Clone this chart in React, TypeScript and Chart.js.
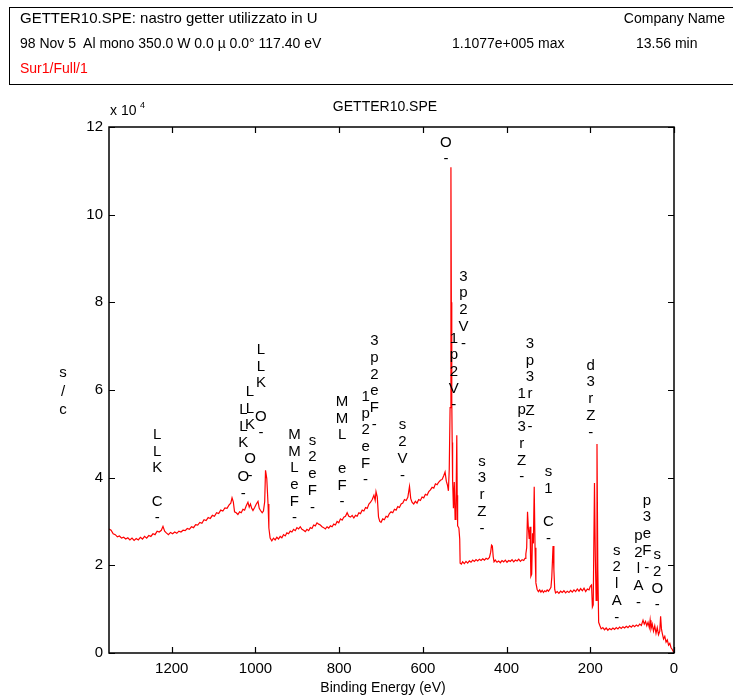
import React, { useEffect, useRef } from "react";
import { Chart, registerables } from "chart.js";

Chart.register(...registerables);

// Binding energy (eV) of each spectrum point
const bindingEnergy = [
  1350, 1345, 1340, 1335, 1330, 1325, 1320, 1315, 1310, 1305, 1300, 1295, 1290, 1285, 1280, 1275, 1270, 1265, 1260, 1255,
  1250, 1245, 1240, 1235, 1230, 1225, 1221, 1217, 1213, 1208, 1203, 1198, 1193, 1188, 1183, 1178, 1173, 1168, 1163, 1158,
  1153, 1148, 1143, 1138, 1133, 1128, 1123, 1118, 1113, 1108, 1103, 1098, 1093, 1088, 1083, 1078, 1073, 1068, 1063, 1059,
  1056, 1053, 1050, 1046, 1042, 1038, 1034, 1030, 1026, 1022, 1018, 1015, 1012, 1009, 1006, 1002, 998, 994, 991, 988,
  984, 981, 978, 976, 973, 970, 968, 965, 961, 957, 953, 949, 945, 941, 937, 933, 929, 925, 921, 917,
  913, 909, 905, 901, 897, 893, 889, 885, 881, 877, 873, 869, 865, 861, 857, 853, 849, 845, 841, 837,
  833, 829, 825, 821, 817, 813, 809, 805, 801, 797, 793, 789, 785, 781, 777, 773, 769, 765, 761, 757,
  753, 749, 745, 741, 737, 733, 729, 725, 721, 717, 714, 712, 709, 706, 703, 700, 696, 692, 688, 684,
  680, 676, 672, 668, 664, 660, 656, 652, 648, 644, 640, 636, 632, 629, 626, 622, 618, 614, 610, 606,
  602, 598, 594, 590, 586, 582, 578, 574, 570, 566, 562, 558, 554, 550, 547, 544, 541, 539, 537, 535,
  533, 532, 531, 530, 529, 527, 525, 523, 521, 519, 518, 517, 514, 512, 511, 508, 505, 501, 497, 493,
  489, 485, 481, 477, 473, 469, 465, 461, 457, 453, 449, 445, 441, 438, 436, 434, 432, 430, 427, 423,
  419, 415, 411, 407, 403, 399, 395, 391, 387, 383, 379, 375, 371, 367, 363, 359, 356, 354, 352, 350,
  348, 346, 344, 342, 340, 338, 336, 334, 332, 330, 327, 324, 321, 318, 315, 312, 309, 306, 303, 300,
  297, 294, 292, 289, 287, 285, 283, 279, 275, 271, 267, 263, 259, 255, 251, 247, 243, 239, 235, 231,
  227, 223, 219, 215, 211, 207, 203, 200, 197, 195, 193, 190, 188, 186, 184, 182, 180, 177, 174, 170,
  166, 162, 158, 154, 150, 146, 142, 138, 134, 130, 126, 122, 118, 114, 110, 106, 102, 98, 94, 90,
  86, 82, 78, 74, 71, 68, 65, 62, 59, 57, 55, 52, 49, 46, 43, 40, 37, 34, 32, 30,
  28, 25, 22, 19, 16, 13, 10, 7, 4, 2, 0,
];

// Count rate, in units of 10^4 counts/s
const countRate = [
  2.83, 2.80, 2.72, 2.70, 2.65, 2.67, 2.62, 2.64, 2.60, 2.63, 2.58, 2.62, 2.57, 2.61, 2.58, 2.64, 2.60, 2.66, 2.62, 2.68,
  2.66, 2.72, 2.70, 2.78, 2.76, 2.80, 2.89, 2.78, 2.74, 2.70, 2.75, 2.72, 2.76, 2.73, 2.78, 2.76, 2.80, 2.79, 2.84, 2.82,
  2.88, 2.86, 2.93, 2.92, 2.98, 2.96, 3.04, 3.02, 3.09, 3.07, 3.14, 3.12, 3.20, 3.18, 3.26, 3.24, 3.31, 3.30, 3.38, 3.42,
  3.54, 3.45, 3.22, 3.20, 3.16, 3.22, 3.20, 3.28, 3.26, 3.36, 3.44, 3.33, 3.40, 3.30, 3.25, 3.32, 3.40, 3.46, 3.30, 3.25,
  3.20, 3.24, 3.45, 4.17, 3.98, 3.40, 2.85, 2.62, 2.56, 2.62, 2.58, 2.64, 2.60, 2.66, 2.63, 2.70, 2.67, 2.74, 2.72, 2.78,
  2.76, 2.82, 2.79, 2.86, 2.83, 2.88, 2.82, 2.80, 2.77, 2.82, 2.79, 2.86, 2.84, 2.92, 2.90, 2.97, 2.94, 2.92, 2.88, 2.86,
  2.83, 2.88, 2.85, 2.90, 2.88, 2.94, 2.92, 3.00, 2.97, 3.06, 3.03, 3.10, 3.12, 3.20, 3.12, 3.10, 3.14, 3.08, 3.14, 3.12,
  3.20, 3.18, 3.26, 3.24, 3.32, 3.30, 3.40, 3.44, 3.50, 3.60, 3.48, 3.68, 3.56, 3.10, 3.00, 2.98, 3.06, 3.04, 3.12, 3.10,
  3.18, 3.22, 3.20, 3.28, 3.26, 3.34, 3.32, 3.40, 3.42, 3.50, 3.48, 3.55, 3.80, 3.52, 3.44, 3.40, 3.46, 3.42, 3.50, 3.48,
  3.56, 3.54, 3.62, 3.60, 3.68, 3.72, 3.78, 3.76, 3.86, 3.84, 3.90, 3.94, 3.96, 4.05, 4.13, 3.92, 3.82, 3.70, 4.20, 5.60,
  11.08, 8.00, 5.80, 4.80, 3.95, 3.30, 3.90, 3.05, 3.20, 4.97, 3.60, 2.90, 2.85, 2.60, 2.05, 2.03, 2.08, 2.04, 2.09, 2.05,
  2.10, 2.07, 2.12, 2.09, 2.13, 2.10, 2.14, 2.11, 2.15, 2.12, 2.16, 2.14, 2.18, 2.30, 2.46, 2.44, 2.20, 2.08, 2.12, 2.07,
  2.10, 2.06, 2.11, 2.08, 2.12, 2.07, 2.11, 2.09, 2.13, 2.08, 2.12, 2.10, 2.14, 2.09, 2.13, 2.11, 2.16, 2.26, 2.40, 3.22,
  2.85, 2.60, 2.88, 1.75, 1.80, 2.73, 2.50, 3.79, 2.40, 1.60, 1.45, 1.40, 1.44, 1.39, 1.43, 1.38, 1.42, 1.40, 1.44, 1.41,
  1.45, 1.50, 1.73, 2.44, 1.90, 1.45, 1.37, 1.40, 1.36, 1.41, 1.38, 1.42, 1.37, 1.41, 1.38, 1.43, 1.39, 1.44, 1.40, 1.46,
  1.41, 1.47, 1.42, 1.48, 1.40, 1.46, 1.44, 1.52, 1.55, 1.05, 1.10, 3.88, 2.20, 1.20, 4.77, 1.90, 0.70, 0.62, 0.55, 0.58,
  0.53, 0.57, 0.52, 0.56, 0.53, 0.57, 0.54, 0.58, 0.55, 0.59, 0.56, 0.60, 0.57, 0.61, 0.58, 0.62, 0.59, 0.63, 0.60, 0.64,
  0.61, 0.66, 0.63, 0.75, 0.66, 0.72, 0.62, 0.70, 0.58, 0.75, 0.55, 0.66, 0.50, 0.62, 0.45, 0.58, 0.42, 0.50, 0.84, 0.55,
  0.45, 0.32, 0.38, 0.25, 0.30, 0.18, 0.22, 0.12, 0.08, 0.04, 0.00,
];

const xTickValues = [0, 200, 400, 600, 800, 1000, 1200];
const yTickValues = [0, 2, 4, 6, 8, 10, 12];

// Peak annotations: stacked characters (top to bottom), energy and level of the "-" marker
const peakLabelText = [
  "LLK C-", "LLK O-", "LLK O-", "LLK O-", "MMLeF-", "s2eF-", "MML eF-", "1p2eF-", "3p2eF-", "s2V-", "O-",
  "1p2V-", "3p2V-", "s3rZ-", "1p3rZ-", "3p3rZ-", "s1 C-", "d3rZ-", "s2lA-", "p2lA-", "p3eF-", "s2O-",
];
const peakLabelEnergy = [1235, 1029, 1013, 987, 907, 864, 793, 737, 716, 649, 545, 526, 503, 459, 364, 344, 300, 199, 137, 85, 65, 40];
const peakLabelLevel = [3.08, 3.65, 4.06, 5.02, 3.08, 3.33, 3.45, 3.95, 5.22, 4.06, 11.27, 5.66, 7.07, 2.85, 4.02, 5.16, 2.62, 5.04, 0.82, 1.16, 1.96, 1.1];

const FONT = "'Liberation Sans', Arial, sans-serif";

const decorPlugin = {
  id: "decor",
  afterDatasetsDraw(chart: any) {
    const { ctx, scales } = chart;
    const xs = scales.x;
    const ys = scales.y;
    ctx.save();
    ctx.fillStyle = "#000";
    ctx.font = `15px ${FONT}`;
    ctx.textAlign = "center";
    ctx.textBaseline = "alphabetic";
    peakLabelText.forEach((txt, idx) => {
      const px = xs.getPixelForValue(peakLabelEnergy[idx]);
      const py = ys.getPixelForValue(peakLabelLevel[idx]);
      const chars = txt.split("");
      const n = chars.length;
      chars.forEach((ch, i) => {
        const k = n - 1 - i;
        if (ch === " ") return;
        ctx.fillText(ch, px, py + 4.5 - k * 16.7);
      });
    });
    ctx.restore();
  },
  afterDraw(chart: any) {
    const { ctx, chartArea, scales } = chart;
    const { left, right, top, bottom } = chartArea;
    const xs = scales.x;
    const ys = scales.y;
    ctx.save();
    ctx.strokeStyle = "#000";
    ctx.lineWidth = 1.5;
    ctx.strokeRect(left, top, right - left, bottom - top);
    ctx.lineWidth = 1.2;
    ctx.beginPath();
    xTickValues.forEach((v) => {
      const px = Math.round(xs.getPixelForValue(v)) + 0.5;
      ctx.moveTo(px, bottom);
      ctx.lineTo(px, bottom - 6);
      ctx.moveTo(px, top);
      ctx.lineTo(px, top + 6);
    });
    yTickValues.forEach((v) => {
      const py = Math.round(ys.getPixelForValue(v)) + 0.5;
      ctx.moveTo(left, py);
      ctx.lineTo(left + 6, py);
      ctx.moveTo(right, py);
      ctx.lineTo(right - 6, py);
    });
    ctx.stroke();

    ctx.fillStyle = "#000";
    ctx.font = `14px ${FONT}`;
    ctx.textBaseline = "middle";
    ctx.textAlign = "center";
    ctx.fillText("GETTER10.SPE", 385, 107);
    ctx.fillText("Binding Energy (eV)", 383, 688);
    ctx.textAlign = "left";
    ctx.fillText("x 10", 110, 111);
    ctx.font = `9px ${FONT}`;
    ctx.fillText("4", 140, 106);
    ctx.font = `15px ${FONT}`;
    ctx.textAlign = "center";
    ctx.fillText("s", 63, 373);
    ctx.fillText("/", 63, 392);
    ctx.fillText("c", 63, 410);
    ctx.restore();
  },
};

export default function App() {
  const ref = useRef<HTMLCanvasElement | null>(null);
  useEffect(() => {
    if (!ref.current) return;
    const chart = new Chart(ref.current, {
      type: "line",
      data: {
        datasets: [
          {
            data: bindingEnergy.map((x, i) => ({ x, y: countRate[i] })),
            borderColor: "#ff0000",
            borderWidth: 1.2,
            pointRadius: 0,
            tension: 0,
            fill: false,
          },
        ],
      },
      options: {
        animation: false,
        responsive: false,
        maintainAspectRatio: false,
        layout: { padding: { left: 0, right: 59, top: 127, bottom: 0 } },
        scales: {
          x: {
            type: "linear",
            reverse: true,
            min: 0,
            max: 1350,
            afterBuildTicks: (s: any) => {
              s.ticks = xTickValues.map((v) => ({ value: v }));
            },
            afterFit: (s: any) => {
              s.height = 46;
            },
            grid: { display: false, drawTicks: false },
            border: { display: false },
            ticks: {
              color: "#000",
              font: { family: FONT, size: 15 },
              padding: 7,
              maxRotation: 0,
              autoSkip: false,
              callback: (v: any) => String(v),
            },
          },
          y: {
            type: "linear",
            min: 0,
            max: 12,
            afterBuildTicks: (s: any) => {
              s.ticks = yTickValues.map((v) => ({ value: v }));
            },
            afterFit: (s: any) => {
              s.width = 109;
            },
            grid: { display: false, drawTicks: false },
            border: { display: false },
            ticks: {
              color: "#000",
              font: { family: FONT, size: 15 },
              padding: 6,
              callback: (v: any) => String(v),
            },
          },
        },
        plugins: {
          legend: { display: false },
          tooltip: { enabled: false },
          title: { display: false },
        },
      },
      plugins: [decorPlugin],
    });
    return () => chart.destroy();
  }, []);

  const headerText: React.CSSProperties = {
    position: "absolute",
    fontFamily: FONT,
    fontSize: 14,
    lineHeight: "18px",
    whiteSpace: "pre",
    color: "#000",
  };

  return (
    <div style={{ position: "absolute", left: 0, top: 0, width: 733, height: 699, background: "#fff", overflow: "hidden" }}>
      <canvas ref={ref} width={733} height={699} style={{ position: "absolute", left: 0, top: 0, width: 733, height: 699 }} />
      <div
        style={{
          position: "absolute",
          left: 9,
          top: 7,
          width: 740,
          height: 78,
          borderTop: "1px solid #000",
          borderLeft: "1px solid #000",
          borderBottom: "1px solid #000",
          boxSizing: "border-box",
        }}
      />
      <div style={{ ...headerText, left: 20, top: 9, fontSize: 15 }}>GETTER10.SPE: nastro getter utilizzato in U</div>
      <div style={{ ...headerText, right: 8, top: 9 }}>Company Name</div>
      <div style={{ ...headerText, left: 20, top: 34 }}>98 Nov 5  Al mono 350.0 W 0.0 µ 0.0° 117.40 eV</div>
      <div style={{ ...headerText, left: 452, top: 34 }}>1.1077e+005 max</div>
      <div style={{ ...headerText, left: 636, top: 34 }}>13.56 min</div>
      <div style={{ ...headerText, left: 20, top: 59, color: "#ff0000" }}>Sur1/Full/1</div>
    </div>
  );
}
